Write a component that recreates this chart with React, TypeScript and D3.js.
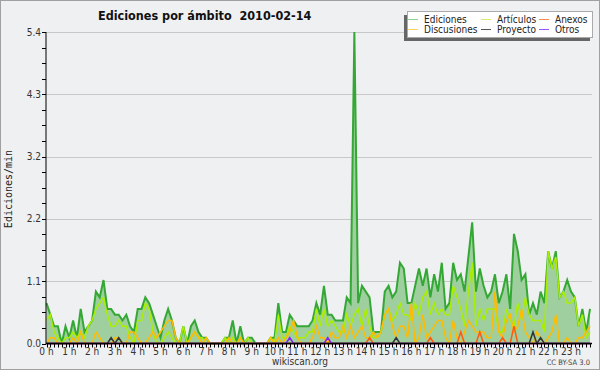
import { useEffect, useRef } from 'react';
import * as d3 from 'd3';

// one value every 10 minutes, 6 per hour (rows = hours 0..23)
const EDICIONES = [
  0.7, 0.5, 0.3, 0.3, 0.0, 0.3,
  0.1, 0.4, 0.1, 0.6, 0.2, 0.3,
  0.4, 0.9, 0.8, 1.1, 0.6, 0.6,
  0.5, 0.5, 0.4, 0.5, 0.3, 0.2,
  0.6, 0.6, 0.8, 0.7, 0.5, 0.3,
  0.1, 0.4, 0.6, 0.4, 0.1, 0.0,
  0.3, 0.0, 0.3, 0.4, 0.2, 0.1,
  0.1, 0.0, 0.0, 0.0, 0.0, 0.1,
  0.1, 0.4, 0.0, 0.3, 0.0, 0.1,
  0.1, 0.0, 0.0, 0.0, 0.0, 0.1,
  0.1, 0.7, 0.2, 0.2, 0.5, 0.4,
  0.3, 0.3, 0.3, 0.3, 0.4, 0.7,
  0.5, 1.0, 0.5, 0.5, 0.4, 0.4,
  0.4, 0.8, 0.7, 5.4, 0.7, 1.0,
  0.9, 0.8, 0.2, 0.2, 0.2, 0.9,
  1.0, 0.8, 0.9, 1.4, 1.3, 0.7,
  0.7, 1.0, 1.3, 1.0, 1.3, 0.8,
  1.2, 0.9, 1.4, 0.6, 0.7, 1.4,
  1.1, 1.2, 0.9, 1.5, 2.1, 0.9,
  1.3, 1.0, 0.8, 0.9, 1.2, 0.7,
  0.9, 1.2, 0.6, 1.9, 1.6, 1.1,
  1.2, 0.5, 0.7, 0.5, 0.9, 0.7,
  1.6, 1.3, 1.6, 0.8, 0.9, 1.1,
  0.9, 0.8, 0.3, 0.6, 0.2, 0.6,
];

const ARTICULOS = [
  0.4, 0.5, 0.2, 0.1, 0.0, 0.1,
  0.1, 0.2, 0.1, 0.2, 0.1, 0.3,
  0.4, 0.6, 0.7, 0.8, 0.5, 0.3,
  0.3, 0.4, 0.3, 0.3, 0.1, 0.0,
  0.4, 0.4, 0.7, 0.6, 0.2, 0.0,
  0.0, 0.1, 0.2, 0.1, 0.0, 0.0,
  0.3, 0.0, 0.1, 0.2, 0.1, 0.1,
  0.0, 0.0, 0.0, 0.0, 0.0, 0.1,
  0.0, 0.1, 0.0, 0.0, 0.0, 0.1,
  0.0, 0.0, 0.0, 0.0, 0.0, 0.1,
  0.0, 0.5, 0.1, 0.1, 0.3, 0.2,
  0.1, 0.1, 0.1, 0.2, 0.2, 0.6,
  0.3, 0.6, 0.3, 0.4, 0.3, 0.2,
  0.2, 0.5, 0.3, 0.5, 0.6, 0.3,
  0.6, 0.3, 0.1, 0.1, 0.2, 0.5,
  0.6, 0.4, 0.5, 0.7, 0.5, 0.5,
  0.4, 0.7, 0.5, 0.8, 0.9, 0.5,
  0.7, 0.5, 0.6, 0.5, 0.5, 1.0,
  0.8, 0.6, 0.3, 0.9, 1.4, 0.3,
  0.6, 0.4, 0.6, 0.6, 0.6, 0.2,
  0.2, 0.6, 0.4, 0.3, 0.7, 0.4,
  0.8, 0.5, 0.4, 0.4, 0.4, 0.2,
  1.6, 1.3, 1.5, 0.8, 0.9, 0.7,
  0.7, 0.8, 0.3, 0.5, 0.1, 0.2,
];

const DISCUSIONES = [
  0.0, 0.1, 0.1, 0.0, 0.0, 0.0,
  0.0, 0.1, 0.0, 0.2, 0.0, 0.0,
  0.0, 0.2, 0.1, 0.0, 0.0, 0.0,
  0.1, 0.1, 0.0, 0.0, 0.2, 0.2,
  0.1, 0.0, 0.0, 0.1, 0.2, 0.1,
  0.2, 0.3, 0.4, 0.4, 0.1, 0.0,
  0.0, 0.0, 0.1, 0.2, 0.1, 0.0,
  0.1, 0.0, 0.0, 0.0, 0.0, 0.0,
  0.1, 0.0, 0.0, 0.1, 0.0, 0.0,
  0.0, 0.0, 0.0, 0.0, 0.0, 0.1,
  0.0, 0.1, 0.0, 0.1, 0.2, 0.4,
  0.1, 0.0, 0.0, 0.0, 0.1, 0.3,
  0.1, 0.1, 0.0, 0.2, 0.1, 0.1,
  0.3, 0.1, 0.3, 0.1, 0.2, 0.3,
  0.1, 0.1, 0.2, 0.1, 0.2, 0.5,
  0.6, 0.3, 0.1, 0.3, 0.3, 0.1,
  0.7, 0.0, 0.1, 0.5, 0.1, 0.2,
  0.3, 0.4, 0.4, 0.1, 0.0, 0.4,
  0.1, 0.0, 0.2, 0.4, 0.3, 0.2,
  0.2, 0.2, 0.1, 0.1, 0.9, 0.2,
  0.1, 0.4, 0.5, 0.2, 0.3, 0.6,
  0.2, 0.1, 0.0, 0.2, 0.1, 0.0,
  0.1, 0.2, 0.5, 0.0, 0.0, 0.1,
  0.0, 0.0, 0.1, 0.1, 0.2, 0.3,
];

const ANEXOS = [
  0, 0, 0, 0, 0, 0,  0, 0, 0, 0, 0, 0,  0, 0, 0, 0, 0, 0,  0, 0, 0, 0, 0, 0,
  0, 0, 0, 0, 0, 0,  0, 0, 0, 0, 0, 0,  0, 0, 0, 0, 0, 0,  0, 0, 0, 0, 0, 0,
  0, 0, 0, 0, 0, 0,  0, 0, 0, 0, 0, 0,  0, 0, 0, 0, 0, 0,  0, 0, 0, 0, 0, 0,
  0, 0, 0, 0, 0, 0,  0, 0, 0, 0, 0, 0,  0, 0.1, 0, 0, 0, 0,  0, 0, 0, 0, 0, 0,
  0, 0, 0, 0, 0, 0.1,  0, 0, 0, 0, 0, 0,  0, 0.2, 0, 0, 0, 0,  0.2, 0, 0, 0, 0, 0,
  0.1, 0, 0, 0.3, 0, 0,  0, 0, 0, 0, 0, 0,  0, 0, 0, 0, 0, 0,  0, 0, 0, 0, 0, 0,
];

const PROYECTO = [
  0, 0, 0, 0, 0, 0,  0, 0, 0, 0, 0, 0,  0, 0, 0, 0, 0, 0.1,  0, 0.1, 0, 0, 0, 0,
  0, 0, 0, 0, 0, 0,  0, 0, 0, 0, 0, 0,  0, 0, 0, 0, 0, 0,  0, 0, 0, 0, 0, 0,
  0, 0, 0, 0, 0, 0,  0, 0, 0, 0, 0, 0,  0, 0, 0, 0, 0, 0,  0, 0, 0, 0, 0, 0,
  0, 0, 0, 0, 0, 0,  0, 0, 0, 0, 0, 0,  0, 0, 0, 0, 0, 0,  0, 0, 0.1, 0, 0, 0,
  0, 0, 0, 0, 0, 0,  0, 0, 0, 0, 0, 0,  0, 0, 0, 0, 0, 0,  0, 0, 0, 0, 0, 0,
  0, 0, 0, 0, 0, 0,  0, 0, 0.2, 0, 0.1, 0,  0, 0, 0, 0, 0, 0,  0, 0, 0, 0, 0, 0,
];

const OTROS = [
  0, 0, 0, 0, 0, 0,  0, 0, 0, 0, 0, 0,  0, 0, 0, 0, 0, 0,  0, 0, 0, 0, 0, 0,
  0, 0, 0, 0, 0, 0,  0, 0, 0, 0, 0, 0,  0, 0, 0, 0, 0, 0,  0, 0, 0, 0, 0, 0,
  0, 0, 0, 0, 0, 0,  0, 0, 0, 0, 0, 0,  0, 0, 0, 0, 0.1, 0,  0, 0, 0, 0, 0, 0,
  0, 0, 0.1, 0, 0, 0,  0, 0, 0, 0, 0, 0,  0, 0, 0, 0, 0, 0,  0, 0, 0, 0, 0, 0,
  0, 0, 0, 0, 0, 0,  0, 0, 0, 0, 0, 0,  0, 0, 0, 0, 0, 0,  0, 0, 0, 0, 0, 0,
  0, 0, 0, 0, 0, 0,  0, 0, 0, 0, 0, 0,  0, 0, 0, 0, 0, 0,  0, 0, 0, 0, 0, 0,
];

const HOUR_LABELS = [
  '0 h', '1 h', '2 h', '3 h', '4 h', '5 h', '6 h', '7 h', '8 h', '9 h', '10 h', '11 h',
  '12 h', '13 h', '14 h', '15 h', '16 h', '17 h', '18 h', '19 h', '20 h', '21 h', '22 h', '23 h',
];

const Y_MAX = 5.4;

const SERIES = [
  { key: 'ediciones', label: 'Ediciones', values: EDICIONES, color: '#34a834', legend: '#8fd08f', width: 2 },
  { key: 'articulos', label: 'Artículos', values: ARTICULOS, color: '#aaee00', legend: '#d2ee6a', width: 1.5 },
  { key: 'anexos', label: 'Anexos', values: ANEXOS, color: '#ff5a10', legend: '#ff8c50', width: 1.5 },
  { key: 'discusiones', label: 'Discusiones', values: DISCUSIONES, color: '#ffbb00', legend: '#ffd45a', width: 1.5 },
  { key: 'proyecto', label: 'Proyecto', values: PROYECTO, color: '#333333', legend: '#555555', width: 1.5 },
  { key: 'otros', label: 'Otros', values: OTROS, color: '#8822ee', legend: '#9955ff', width: 1.5 },
];

const FONT = "'DejaVu Sans Condensed', 'DejaVu Sans', sans-serif";

export default function App() {
  const svgRef = useRef<SVGSVGElement>(null);

  useEffect(() => {
    if (!svgRef.current) return;
    const W = 600;
    const H = 370;
    const left = 46.5;
    const right = 590;
    const top = 32;
    const bottom = 343.5;

    const svg = d3.select(svgRef.current);
    svg.selectAll('*').remove();

    // background + frame
    svg.append('rect')
      .attr('x', 0.5).attr('y', 0.5)
      .attr('width', W - 1).attr('height', H - 1)
      .attr('fill', '#eff0f1')
      .attr('stroke', '#a0a0a0');

    const x = d3.scaleLinear().domain([0, EDICIONES.length - 1]).range([left, right]);
    const y = d3.scaleLinear().domain([0, Y_MAX]).range([bottom, top]);

    // grid lines at every 1/5 of the max
    const yTicks = d3.range(1, 6).map((k) => (Y_MAX * k) / 5);
    svg.append('g')
      .selectAll('line')
      .data(yTicks)
      .join('line')
      .attr('x1', left).attr('x2', 592)
      .attr('y1', (d) => Math.round(y(d)) + 0.5)
      .attr('y2', (d) => Math.round(y(d)) + 0.5)
      .attr('stroke', '#c8c8c8');

    // edits area
    const area = d3.area<number>()
      .x((_, i) => x(i))
      .y0(y(0))
      .y1((d) => y(d));
    svg.append('path')
      .datum(EDICIONES)
      .attr('d', area)
      .attr('fill', '#9fcf9f');

    const line = d3.line<number>()
      .x((_, i) => x(i))
      .y((d) => y(d));

    // draw ediciones first, the namespaces over it
    const drawOrder = ['ediciones', 'articulos', 'discusiones', 'anexos', 'proyecto', 'otros'];
    drawOrder.forEach((k) => {
      const s = SERIES.find((d) => d.key === k)!;
      svg.append('path')
        .datum(s.values)
        .attr('d', line)
        .attr('fill', 'none')
        .attr('stroke', s.color)
        .attr('stroke-width', s.width)
        .attr('stroke-linejoin', 'miter');
    });

    // y axis
    const yAxis = svg.append('g');
    yAxis.append('line')
      .attr('x1', 46).attr('x2', 46)
      .attr('y1', top).attr('y2', bottom + 0.5)
      .attr('stroke', '#000');
    const minor = d3.range(0, 21).map((k) => (Y_MAX * k) / 20);
    yAxis.selectAll('line.tick')
      .data(minor)
      .join('line')
      .attr('class', 'tick')
      .attr('x1', 42).attr('x2', 46)
      .attr('y1', (d) => Math.round(y(d)) + 0.5)
      .attr('y2', (d) => Math.round(y(d)) + 0.5)
      .attr('stroke', '#000');
    yAxis.selectAll('text')
      .data([0, ...yTicks])
      .join('text')
      .attr('x', 41)
      .attr('y', (d) => y(d) + 3.5)
      .attr('text-anchor', 'end')
      .attr('font-family', FONT)
      .attr('font-size', 10)
      .attr('fill', '#333')
      .text((d) => d.toFixed(1));

    // x axis
    const xAxis = svg.append('g');
    xAxis.append('line')
      .attr('x1', 46).attr('x2', 592)
      .attr('y1', bottom).attr('y2', bottom)
      .attr('stroke', '#000')
      .attr('stroke-width', 1.5);
    xAxis.selectAll('line.tick')
      .data(d3.range(0, EDICIONES.length))
      .join('line')
      .attr('class', 'tick')
      .attr('x1', (d) => Math.round(x(d)) + 0.5)
      .attr('x2', (d) => Math.round(x(d)) + 0.5)
      .attr('y1', bottom).attr('y2', bottom + 4)
      .attr('stroke', '#000');
    xAxis.selectAll('text')
      .data(HOUR_LABELS)
      .join('text')
      .attr('x', (_, i) => x(i * 6))
      .attr('y', 355)
      .attr('text-anchor', 'middle')
      .attr('font-family', FONT)
      .attr('font-size', 10)
      .attr('fill', '#333')
      .text((d) => d);

    // axis title
    svg.append('text')
      .attr('transform', 'translate(12,189) rotate(-90)')
      .attr('text-anchor', 'middle')
      .attr('font-family', "'DejaVu Sans Mono', monospace")
      .attr('font-size', 10)
      .attr('fill', '#222')
      .text('Ediciones/min');

    // title (double space kept)
    svg.append('text')
      .attr('x', 98).attr('y', 20)
      .attr('font-family', FONT)
      .attr('font-weight', 'bold')
      .attr('font-size', 12.5)
      .attr('fill', '#111')
      .style('white-space', 'pre')
      .text('Ediciones por ámbito  2010-02-14');

    // footer
    svg.append('text')
      .attr('x', 300).attr('y', 365)
      .attr('text-anchor', 'middle')
      .attr('font-family', FONT)
      .attr('font-size', 10)
      .attr('fill', '#333')
      .text('wikiscan.org');
    svg.append('text')
      .attr('x', 590).attr('y', 365)
      .attr('text-anchor', 'end')
      .attr('font-family', FONT)
      .attr('font-size', 7.5)
      .attr('fill', '#444')
      .text('CC BY-SA 3.0');

    // legend
    const lg = svg.append('g');
    lg.append('rect')
      .attr('x', 404).attr('y', 15)
      .attr('width', 186).attr('height', 26)
      .attr('fill', '#666');
    lg.append('rect')
      .attr('x', 407.5).attr('y', 11.5)
      .attr('width', 185).attr('height', 26)
      .attr('fill', '#fff')
      .attr('stroke', '#aaa');
    const colX = [408, 481, 539];
    SERIES.forEach((s, i) => {
      const cx = colX[i % 3];
      const cy = i < 3 ? 19.5 : 29.5;
      lg.append('line')
        .attr('x1', cx).attr('x2', cx + 10)
        .attr('y1', cy).attr('y2', cy)
        .attr('stroke', s.legend)
        .attr('stroke-width', 1);
      lg.append('text')
        .attr('x', cx + 16).attr('y', cy + 3.5)
        .attr('font-family', FONT)
        .attr('font-size', 10)
        .attr('fill', '#222')
        .text(s.label);
    });
  }, []);

  return (
    <svg
      ref={svgRef}
      width={600}
      height={370}
      style={{ position: 'absolute', left: 0, top: 0 }}
    />
  );
}
